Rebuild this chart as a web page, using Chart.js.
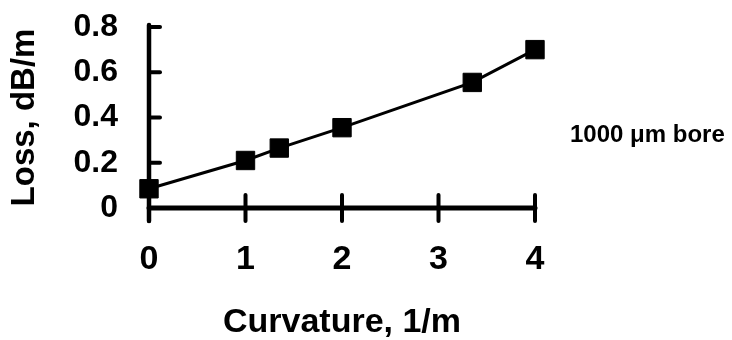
<!DOCTYPE html>
<html>
<head>
<meta charset="utf-8">
<script src="https://cdn.jsdelivr.net/npm/chart.js@4"></script>
<style>
  html, body { margin: 0; padding: 0; background: #fff; }
  #wrap { width: 732px; height: 340px; }
</style>
</head>
<body>
<div id="wrap"><canvas id="chart"></canvas></div>
<script>
const curvature = [0, 1, 1.35, 2, 3.35, 4];
const loss = [0.085, 0.21, 0.265, 0.355, 0.555, 0.70];
const xTicks = [0, 1, 2, 3, 4];
const yTicks = [0, 0.2, 0.4, 0.6, 0.8];
const seriesLabel = '1000 μm bore';
const xTitle = 'Curvature, 1/m';
const yTitle = 'Loss, dB/m';

const FONT = '"Liberation Sans", Arial, sans-serif';

function strokeLine(ctx, x1, y1, x2, y2) {
    ctx.beginPath();
    ctx.moveTo(x1, y1);
    ctx.lineTo(x2, y2);
    ctx.stroke();
}

// heavy black axes: x ticks cross the axis, y ticks point into the plot
const axesPlugin = {
    id: 'axes',
    beforeDatasetsDraw(chart) {
        const { ctx, scales: { x, y } } = chart;
        const x0 = x.getPixelForValue(0);
        const y0 = y.getPixelForValue(0);
        const top = y.getPixelForValue(y.max);
        const right = x.getPixelForValue(x.max);
        ctx.save();
        ctx.strokeStyle = '#000';
        ctx.lineCap = 'round';
        ctx.lineWidth = 4;
        x.ticks.forEach(t => {
            const px = x.getPixelForValue(t.value);
            strokeLine(ctx, px, y0 - 13, px, y0 + 13);
        });
        y.ticks.forEach(t => {
            if (t.value === 0) return;
            const py = y.getPixelForValue(t.value);
            strokeLine(ctx, x0, py, x0 + 11, py);
        });
        ctx.lineWidth = 5;
        strokeLine(ctx, x0, y0, right, y0);
        ctx.lineWidth = 4.5;
        strokeLine(ctx, x0, top - 2, x0, y0 + 13);
        ctx.restore();
    },
    afterDraw(chart) {
        // series name sits to the right of the plot
        const { ctx, chartArea, scales: { y } } = chart;
        ctx.save();
        ctx.fillStyle = '#000';
        ctx.font = 'bold 24px ' + FONT;
        ctx.textAlign = 'left';
        ctx.textBaseline = 'middle';
        ctx.fillText(chart.data.datasets[0].label, chartArea.right + 35, y.getPixelForValue(0.32));
        ctx.restore();
    }
};

new Chart(document.getElementById('chart'), {
    type: 'scatter',
    data: {
        datasets: [{
            label: seriesLabel,
            data: curvature.map((c, i) => ({ x: c, y: loss[i] })),
            showLine: true,
            borderColor: '#000',
            borderWidth: 3,
            tension: 0,
            pointStyle: 'rect',
            pointRadius: 13,
            pointHoverRadius: 13,
            pointBackgroundColor: '#000',
            pointBorderColor: '#000',
            pointBorderWidth: 1,
            clip: false
        }]
    },
    options: {
        responsive: true,
        maintainAspectRatio: false,
        devicePixelRatio: 1,
        animation: false,
        events: [],
        layout: { padding: { left: 0, right: 197, top: 27, bottom: 0 } },
        plugins: {
            legend: { display: false },
            tooltip: { enabled: false }
        },
        scales: {
            x: {
                type: 'linear',
                min: 0,
                max: 4,
                afterBuildTicks: s => { s.ticks = xTicks.map(v => ({ value: v })); },
                afterFit: s => { s.height = 132; },
                grid: { display: false, drawTicks: false },
                border: { display: false },
                ticks: {
                    autoSkip: false,
                    padding: 31,
                    color: '#000',
                    font: { family: FONT, size: 34, weight: 'bold' }
                },
                title: {
                    display: true,
                    text: xTitle,
                    color: '#000',
                    padding: { top: 0, bottom: 0 },
                    font: { family: FONT, size: 34, weight: 'bold', lineHeight: 1 }
                }
            },
            y: {
                type: 'linear',
                min: 0,
                max: 0.8,
                afterBuildTicks: s => { s.ticks = yTicks.map(v => ({ value: v })); },
                afterFit: s => {
                    s.width = 149;
                    s.paddingTop = 0;
                    s.paddingBottom = 0;
                },
                grid: { display: false, drawTicks: false },
                border: { display: false },
                ticks: {
                    autoSkip: false,
                    padding: 31,
                    color: '#000',
                    font: { family: FONT, size: 32, weight: 'bold' }
                },
                title: {
                    display: true,
                    text: yTitle,
                    color: '#000',
                    padding: { top: 5, bottom: 0 },
                    font: { family: FONT, size: 33, weight: 'bold' }
                }
            }
        }
    },
    plugins: [axesPlugin]
});
</script>
</body>
</html>
